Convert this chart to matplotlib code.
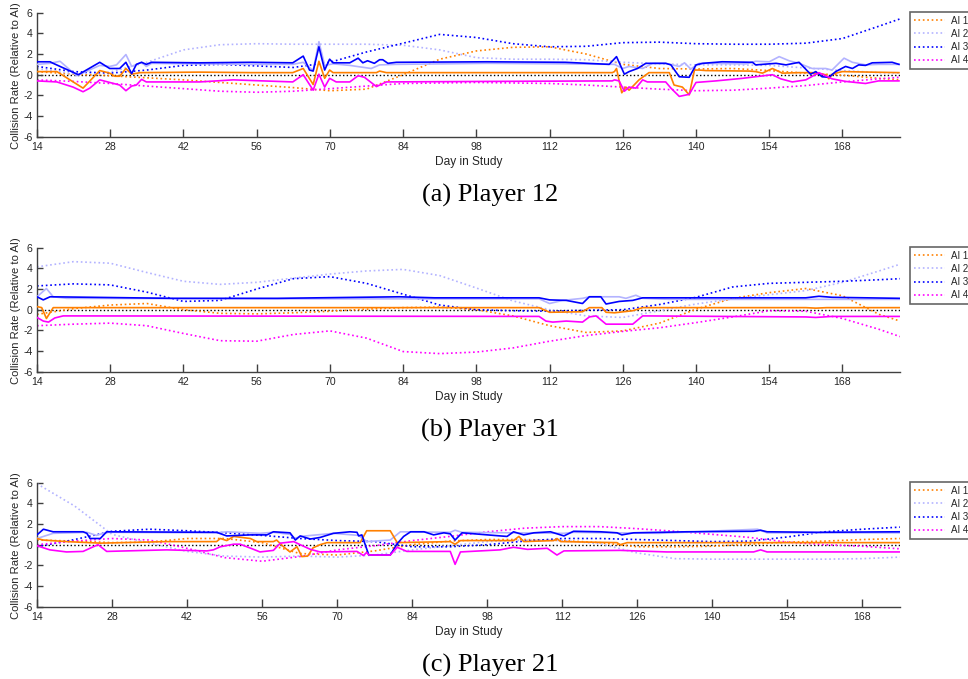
import matplotlib
matplotlib.use("Agg")
import matplotlib.pyplot as plt
from matplotlib.transforms import Bbox, TransformedBbox

plt.rcParams['font.family'] = ['Liberation Sans', 'DejaVu Sans']
plt.rcParams['axes.unicode_minus'] = False

# ---------------- data ----------------
ai_names = ["AI 1", "AI 2", "AI 3", "AI 4"]
ai_colors = ["#FF8000", "#B3B3FF", "#0000FF", "#FF00FF"]
x_ticks = [14, 28, 42, 56, 70, 84, 98, 112, 126, 140, 154, 168]
y_ticks = [-6, -4, -2, 0, 2, 4, 6]

trend_days = [14, 21, 28, 35, 42, 49, 56, 63, 70, 77, 84, 91, 98, 105, 112,
              119, 126, 133, 140, 147, 154, 161, 168, 175, 179]
trend_days_21 = trend_days[:-1]

# ---- Player 12 ----
p12_ai1_x = [14, 17.8, 22.8, 26.0, 27.9, 28.9, 29.8, 31.0, 32.1, 33.7, 45, 55, 62.9, 64.9, 66.8, 67.9, 69.0, 69.95,
             70.6, 78.9, 79.5, 80.8, 100, 124.0, 124.4, 124.8, 125.8, 126.6, 127.2, 129.1, 131.0, 134.9, 135.8,
             137.4, 138.7, 139.7, 140.6, 141.9, 150.2, 151.4, 152.7, 154.6, 156.5, 159.7, 162.2, 164.8, 165.4,
             166.0, 166.7, 168.0, 178.8]
p12_ai1_y = [0.3, 0.3, -1.3, 0.4, 0.15, -0.15, -0.15, 0.6, 0.05, 0.2, 0.25, 0.2, 0.2, 0.6, -0.95, 1.3, -0.35, 0.45,
             0.2, 0.2, 0.35, 0.2, 0.2, 0.2, 0.3, 0.6, -1.75, -1.2, -1.5, -0.5, 0.2, 0.2, -1.0,
             -1.2, -1.95, 0.45, 0.45, 0.4, 0.35, 0.3, 0.15, 0.6, 0.15, 0.2, 0.2, 0.0, -0.4,
             0.0, 0.15, 0.3, 0.2]
p12_ai2_x = [14, 16.5, 18.4, 21.6, 26.0, 27.9, 29.2, 31.0, 32.1, 34.0, 34.9, 35.9, 45, 55, 62.9, 64.9, 66.8, 67.9,
             69.0, 70.6, 73.8, 77.9, 79.5, 82.7, 100, 115, 124.4, 126.0, 127.2, 129.8, 131.7, 134.2, 136.8,
             137.8, 139.0, 140.6, 149.6, 151.4, 154.0, 155.9, 157.8, 159.7, 162.2, 164.8, 166.0, 168.3, 169.9,
             172.4, 174.9, 178.8]
p12_ai2_y = [1.0, 1.1, 1.3, -0.1, 0.9, 0.8, 0.95, 1.95, 0.8, 1.2, 0.8, 1.1, 1.05, 1.0, 1.0, 1.2, 0.4, 3.2,
             0.9, 1.05, 0.9, 0.6, 0.95, 1.0, 1.1, 1.05, 1.0, 0.6, 0.8, 0.6, 1.1, 1.1, 0.8,
             1.15, 0.55, 1.1, 1.05, 1.3, 1.25, 1.75, 1.35, 1.1, 0.6, 0.6, 0.45, 1.6, 1.2,
             0.95, 1.0, 1.0]
p12_ai3_x = [14, 16.5, 17.1, 21.9, 26.0, 27.9, 29.8, 31.0, 32.1, 33.0, 34.0, 34.9, 35.9, 45, 55, 62.9, 64.9, 66.1,
             66.8, 67.9, 69.0, 69.95, 70.6, 73.8, 75.4, 76.3, 77.2, 78.5, 79.5, 80.1, 81.1, 82.7, 100, 115,
             123.4, 124.8, 126.3, 127.2, 128.8, 130.4, 134.2, 135.2, 136.8, 138.7, 140.0, 141.3, 145, 150.8,
             151.4, 155.3, 157.2, 159.7, 161.9, 162.9, 164.1, 165.4, 166.7, 168.6, 169.9, 171.1, 172.4, 173.7,
             177.5, 178.8]
p12_ai3_y = [1.25, 1.25, 1.1, 0.0, 1.2, 0.6, 0.6, 1.2, 0.1, 1.0, 1.2, 1.0, 1.2, 1.15, 1.2, 1.15, 1.8, 0.45,
             0.35, 2.7, 0.45, 1.5, 1.15, 1.15, 1.6, 1.15, 1.35, 1.1, 1.45, 1.45, 1.1, 1.2, 1.25, 1.2,
             1.0, 1.75, 0.05, 0.3, 0.6, 1.1, 1.1, 0.95, -0.2, -0.25, 0.95, 1.1, 1.25, 1.2,
             0.95, 1.1, 0.95, 1.2, 0.05, 0.3, -0.2, -0.25, 0.3, 0.8, 0.6, 0.95, 0.9, 1.15,
             1.2, 1.0]
p12_ai4_x = [14, 17.8, 20.9, 22.8, 24.1, 26.0, 27.9, 29.8, 31.0, 32.1, 33.0, 34.0, 34.9, 45.1, 51.5, 62.9, 64.9,
             66.8, 67.9, 69.0, 69.95, 71.2, 73.8, 75.4, 76.6, 78.9, 80.8, 100, 124.0, 124.4, 125.3, 126.3,
             127.2, 128.5, 129.8, 130.7, 134.2, 135.2, 136.8, 138.7, 140.0, 143.8, 148.9, 154.6, 156.2, 158.4,
             161.0, 163.5, 166.0, 168.6, 172.4, 174.9, 178.8]
p12_ai4_y = [-0.6, -0.7, -1.2, -1.65, -1.3, -0.5, -0.75, -1.0, -1.55, -1.1, -1.0, -0.45, -0.7, -0.7, -0.5, -0.7, 0.0,
             -1.5, 0.05, -1.2, -0.35, -0.7, -0.7, -0.1, -0.25, -1.15, -0.7, -0.65, -0.6, -0.5, -0.6, -1.6,
             -1.2, -1.3, -0.5, -0.7, -0.7, -1.3, -2.1, -1.9, -0.75, -0.6, -0.35, 0.0, -0.4, -0.7,
             -0.5, 0.2, -0.4, -0.65, -0.85, -0.6, -0.6]
p12_ai1_trend = [0.3, 0.05, -0.1, -0.3, -0.5, -0.75, -1.0, -1.25, -1.55, -1.4, 0.0, 1.5, 2.3, 2.65, 2.7,
                 2.0, 1.0, 0.6, 0.55, 0.6, 0.4, 0.15, -0.05, -0.35, -0.5]
p12_ai2_trend = [0.6, 0.1, 0.25, 1.2, 2.4, 2.9, 3.0, 2.95, 2.95, 2.95, 2.85, 2.4, 1.65, 1.5, 1.5,
                 1.45, 1.2, 1.05, 0.95, 0.95, 0.9, 0.65, 0.4, 0.2, 0.15]
p12_ai3_trend = [0.8, 0.3, 0.15, 0.45, 0.9, 1.0, 0.85, 0.7, 1.2, 2.2, 3.05, 3.9, 3.6, 3.0, 2.7,
                 2.75, 3.1, 3.15, 3.0, 2.95, 2.95, 3.05, 3.5, 4.7, 5.4]
p12_ai4_trend = [-0.5, -0.65, -0.85, -1.1, -1.35, -1.6, -1.7, -1.6, -1.35, -1.1, -0.85, -0.8, -0.75, -0.8, -0.85,
                 -1.0, -1.2, -1.4, -1.55, -1.5, -1.3, -1.05, -0.7, -0.4, -0.25]

# ---- Player 31 ----
p31_ai1_x = [14, 14.9, 15.8, 17.1, 40, 80, 110, 112, 118.3, 119.6, 122.0, 122.8, 124.4, 127.9, 129.8, 161, 162.9,
             165, 179]
p31_ai1_y = [0.3, 0.2, -0.85, 0.2, 0.2, 0.2, 0.2, -0.25, -0.2, 0.2, 0.2, -0.25, -0.3, -0.1, 0.2, 0.2, 0.15,
             0.2, 0.2]
p31_ai2_x = [14, 15.8, 17.1, 19.7, 60, 100, 110, 112, 114.5, 118.3, 119.6, 125.3, 126.6, 128.5, 129.8, 135, 179]
p31_ai2_y = [1.25, 2.05, 1.25, 1.1, 1.05, 1.05, 1.05, 0.6, 0.9, 1.1, 1.25, 1.25, 1.1, 1.4, 1.1, 1.0, 1.0]
p31_ai3_x = [14, 15.2, 16.5, 40, 60, 83.3, 90, 110, 112, 115.2, 118.3, 119.6, 121.8, 122.8, 125.3, 127.9, 129.8,
             161, 163.5, 166, 179]
p31_ai3_y = [1.25, 0.95, 1.25, 1.1, 1.1, 1.25, 1.15, 1.15, 0.95, 0.9, 0.6, 1.25, 1.25, 0.55, 0.8, 0.9, 1.15,
             1.15, 1.3, 1.2, 1.1]
p31_ai4_x = [14, 15.2, 16.2, 17.4, 19, 110, 111.3, 112.6, 115.2, 118.3, 119.6, 120.9, 122.8, 125.3, 127.9, 129.8,
             161, 162.9, 166, 179]
p31_ai4_y = [-0.75, -1.1, -1.2, -0.8, -0.6, -0.65, -1.1, -1.2, -1.1, -1.2, -0.7, -0.6, -1.4, -1.4, -1.4, -0.6,
             -0.7, -0.75, -0.65, -0.65]
p31_ai1_trend = [-0.45, 0.1, 0.45, 0.6, 0.0, -0.35, -0.4, -0.3, -0.15, 0.05, 0.2, 0.25, 0.0, -0.6, -1.55,
                 -2.2, -2.05, -1.3, 0.05, 1.1, 1.65, 2.05, 1.35, -0.45, -1.1]
p31_ai2_trend = [4.15, 4.65, 4.5, 3.6, 2.75, 2.45, 2.65, 3.05, 3.45, 3.75, 3.9, 3.3, 2.1, 0.85, 0.0,
                 -0.6, -0.75, -0.1, 0.55, 1.05, 1.45, 1.85, 2.65, 3.75, 4.4]
p31_ai3_trend = [2.3, 2.5, 2.4, 1.7, 0.8, 0.9, 2.0, 3.0, 3.2, 2.55, 1.5, 0.45, 0.0, -0.1, -0.15,
                 -0.05, 0.0, 0.5, 1.2, 2.2, 2.55, 2.65, 2.75, 2.9, 3.0]
p31_ai4_trend = [-1.55, -1.4, -1.3, -1.55, -2.3, -3.0, -3.05, -2.4, -2.05, -2.75, -4.05, -4.25, -4.1, -3.7, -3.05,
                 -2.5, -2.1, -1.75, -1.25, -0.7, -0.1, -0.15, -0.85, -1.9, -2.6]

# ---- Player 21 ----
p21_ai1_x = [14, 15.2, 19.5, 25.8, 38.2, 47.5, 48.2, 49.4, 50.7, 53.8, 55.0, 58.1, 58.7, 60.0, 61.2, 62.5, 63.4,
             64.5, 65.5, 66.8, 68.1, 74.3, 75.5, 79.9, 81.2, 91.1, 92.0, 93.0, 102.9, 103.9, 104.8, 110.4, 111.0,
             111.7, 122.2, 122.8, 124.1, 175]
p21_ai1_y = [0.6, 0.45, 0.3, 0.15, 0.3, 0.3, 0.6, 0.4, 0.8, 0.6, 0.3, 0.3, 0.45, -0.2, -0.7, -0.2, -1.15,
             -1.1, -0.3, 0.0, 0.2, 0.2, 1.35, 1.35, 0.2, 0.3, 0.05, 0.4, 0.4, 0.8, 0.3, 0.4, 0.6,
             0.3, 0.2, 0.0, 0.2, 0.2]
p21_ai2_x = [14, 17.0, 23.3, 25.1, 27.0, 47.5, 49.4, 55.6, 58.1, 61.2, 62.2, 63.1, 69.3, 74.0, 75.5, 79.9, 81.8,
             91.1, 92.0, 93.3, 112.3, 114.1, 130, 148.4, 150.2, 175]
p21_ai2_y = [0.6, 1.1, 1.2, 0.9, 1.2, 1.15, 1.25, 1.1, 1.2, 1.0, 0.6, 0.8, 1.1, 0.9, 0.3, 0.45, 1.25,
             1.2, 1.4, 1.2, 1.1, 1.2, 1.1, 1.5, 1.15, 1.15]
p21_ai3_x = [14, 15.2, 17.0, 22.6, 23.3, 23.9, 25.8, 27.0, 47.5, 49.4, 53.8, 56.9, 58.1, 61.2, 62.2, 63.1, 65.0,
             66.8, 69.3, 72.4, 73.7, 74.0, 74.6, 75.9, 79.9, 81.2, 82.4, 83.7, 86.2, 88.0, 89.9, 91.1, 92.0,
             93.3, 100.4, 101.7, 102.9, 104.8, 106.7, 109.8, 112.3, 114.1, 119.1, 122.2, 123.1, 125.3, 135.3,
             147.7, 149.0, 150.2, 159.6, 175]
p21_ai3_y = [0.95, 1.5, 1.25, 1.25, 1.1, 0.6, 0.6, 1.25, 1.2, 0.85, 0.95, 0.95, 1.25, 1.15, 0.45, 0.85, 0.55,
             0.7, 1.1, 1.25, 1.2, 0.85, 0.95, -1.0, -1.0, 0.1, 0.8, 1.25, 1.25, 0.95, 1.15, 1.05, 0.45,
             1.15, 0.85, 0.8, 1.25, 0.95, 1.15, 1.25, 0.85, 1.3, 1.25, 1.15, 0.95, 1.15, 1.25,
             1.3, 1.4, 1.25, 1.2, 1.25]
p21_ai4_x = [14, 16.4, 19.5, 22.6, 24.5, 25.4, 27.0, 38.2, 45.7, 46.9, 48.2, 50.7, 51.9, 54.4, 55.6, 58.1, 59.4,
             61.9, 63.1, 65.0, 66.8, 73.7, 74.9, 75.5, 75.9, 79.9, 81.2, 83.0, 91.1, 92.0, 93.0, 100.4, 102.9,
             105.5, 109.2, 111.0, 112.3, 122.8, 131.5, 147.7, 149.0, 150.2, 175]
p21_ai4_y = [-0.1, -0.5, -0.7, -0.65, -0.2, 0.0, -0.65, -0.5, -0.6, -0.5, -0.2, 0.05, 0.05, -0.45, -0.7, -0.55, 0.15,
             0.3, 0.0, -0.45, -0.7, -0.65, -1.05, -0.75, -1.0, -1.0, -0.25, -0.65, -0.65, -1.9, -0.7, -0.5, -0.25,
             -0.45, -0.35, -1.0, -0.6, -0.55, -0.7, -0.7, -0.5, -0.7, -0.7]
p21_ai1_trend = [0.45, 0.35, 0.2, 0.25, 0.6, 0.6, 0.2, -0.85, -1.0, -0.6, 0.0, 0.35, 0.5, 0.5, 0.4,
                 0.2, -0.2, -0.2, -0.15, 0.05, 0.25, 0.35, 0.5, 0.6]
p21_ai2_trend = [5.9, 3.75, 1.0, 0.15, -0.65, -1.1, -1.2, -1.1, -1.2, -1.0, -0.5, -0.1, 0.3, 0.45, 0.4,
                 0.1, -0.8, -1.35, -1.4, -1.4, -1.4, -1.4, -1.35, -1.2]
p21_ai3_trend = [-0.2, 0.5, 1.3, 1.5, 1.35, 1.15, 0.9, 0.6, 0.4, 0.3, -0.2, -0.2, 0.0, 0.35, 0.6,
                 0.6, 0.5, 0.4, 0.3, 0.35, 0.75, 1.25, 1.5, 1.7]
p21_ai4_trend = [0.0, 0.35, 0.6, 0.45, -0.35, -1.25, -1.6, -1.15, -0.5, -0.1, 0.4, 0.8, 1.25, 1.6, 1.75,
                 1.75, 1.55, 1.3, 1.0, 0.7, 0.25, 0.0, -0.15, -0.4]

panels = [
    dict(caption="(a) Player 12", xmax=179, tdays=trend_days,
         raw=[(p12_ai1_x, p12_ai1_y), (p12_ai2_x, p12_ai2_y), (p12_ai3_x, p12_ai3_y), (p12_ai4_x, p12_ai4_y)],
         trend=[p12_ai1_trend, p12_ai2_trend, p12_ai3_trend, p12_ai4_trend]),
    dict(caption="(b) Player 31", xmax=179, tdays=trend_days,
         raw=[(p31_ai1_x, p31_ai1_y), (p31_ai2_x, p31_ai2_y), (p31_ai3_x, p31_ai3_y), (p31_ai4_x, p31_ai4_y)],
         trend=[p31_ai1_trend, p31_ai2_trend, p31_ai3_trend, p31_ai4_trend]),
    dict(caption="(c) Player 21", xmax=175, tdays=trend_days_21,
         raw=[(p21_ai1_x, p21_ai1_y), (p21_ai2_x, p21_ai2_y), (p21_ai3_x, p21_ai3_y), (p21_ai4_x, p21_ai4_y)],
         trend=[p21_ai1_trend, p21_ai2_trend, p21_ai3_trend, p21_ai4_trend]),
]

# ---------------- layout ----------------
W, H = 968, 679
fig = plt.figure(figsize=(W / 100, H / 100), dpi=100)
axis_col = "#404040"
text_col = "#262626"

panel_top = [12.7, 247.7, 482.7]   # pixel y of axes top
ax_h = 124.0
ax_left, ax_right = 37.0, 900.0

raw_order = [1, 0, 2, 3]

for i, p in enumerate(panels):
    top = panel_top[i]
    ax = fig.add_axes([ax_left / W, 1 - (top + ax_h) / H, (ax_right - ax_left) / W, ax_h / H])
    ax.axhline(0, color="black", ls=":", lw=1.0, zorder=1)
    handles = []
    for k in range(4):
        h, = ax.plot(p["tdays"], p["trend"][k], ls=":", lw=1.2, color=ai_colors[k],
                     label=ai_names[k], zorder=2)
        handles.append(h)
    for k in raw_order:
        xs, ys = p["raw"][k]
        ax.plot(xs, ys, ls="-", lw=1.2, color=ai_colors[k], zorder=3)
    ax.set_xlim(14, p["xmax"])
    ax.set_ylim(-6, 6)
    ax.set_xticks(x_ticks)
    ax.set_yticks(y_ticks)
    for s in ["top", "right"]:
        ax.spines[s].set_visible(False)
    for s in ["left", "bottom"]:
        ax.spines[s].set_color(axis_col)
        ax.spines[s].set_linewidth(1.0)
    ax.tick_params(axis="x", direction="in", length=5.8, width=1.0, color=axis_col,
                   labelsize=7.6, labelcolor=text_col, pad=4.0)
    ax.tick_params(axis="y", direction="in", length=4.0, width=1.0, color=axis_col,
                   labelsize=7.6, labelcolor=text_col, pad=3)
    ax.set_xlabel("Day in Study", fontsize=8.6, color=text_col)
    ax.xaxis.set_label_coords(0.5, -19.5 / ax_h)
    ax.set_ylabel("Collision Rate (Relative to AI)", fontsize=8.1, color=text_col)
    ax.yaxis.set_label_coords(-15.5 / (ax_right - ax_left), 0.49)

    leg = ax.legend(handles=handles, loc="upper left",
                    bbox_to_anchor=(910 / W, 1 - (top - 1.0) / H), bbox_transform=fig.transFigure,
                    fontsize=7.0, frameon=True, fancybox=False, borderaxespad=0,
                    handlelength=3.2, handletextpad=0.65, labelspacing=0.33, borderpad=0.4)
    leg.get_frame().set_edgecolor(axis_col)
    leg.get_frame().set_linewidth(1.2)
    for t in leg.get_texts():
        t.set_color(text_col)

    fig.text(490 / W, 1 - (top + 189.0) / H, p["caption"], ha="center", va="baseline",
             fontsize=19, family=["Liberation Serif", "DejaVu Serif"], color="black")

fig.savefig("out.png", dpi=100)
